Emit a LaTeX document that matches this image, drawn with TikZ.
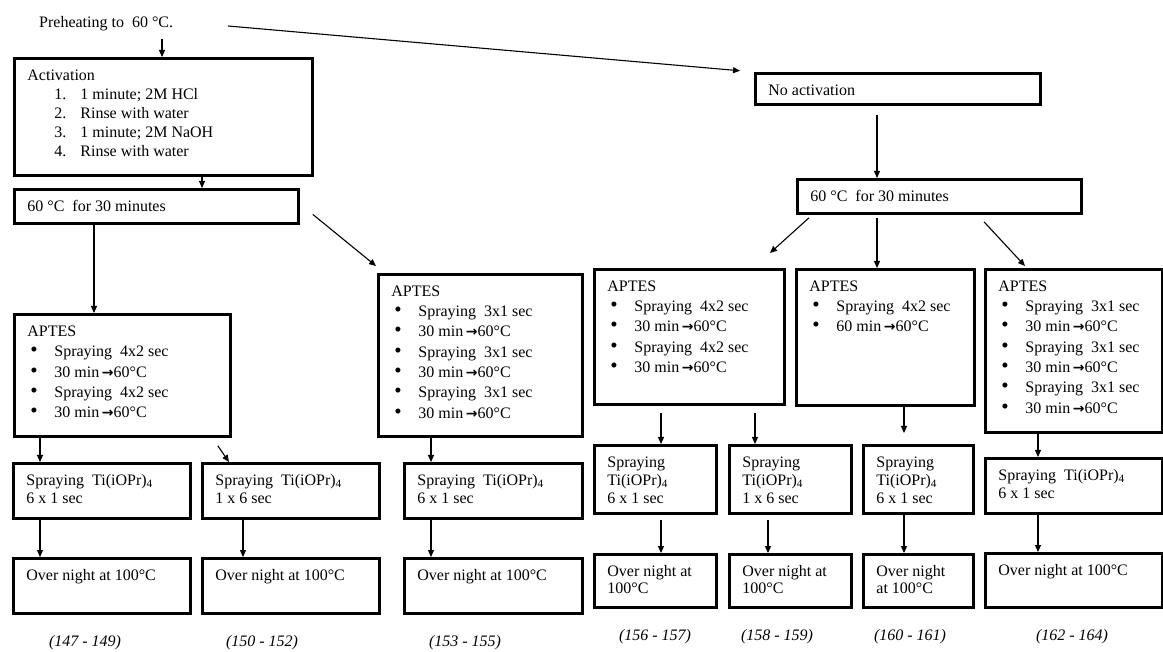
\documentclass[tikz,border=0pt]{standalone}
\usepackage{fontspec}
\setmainfont{Liberation Serif}
\newfontfamily\arrowfont{DejaVu Sans}
\usetikzlibrary{arrows.meta}

% box text: width, height, line spacing, lines
\newcommand{\boxtxt}[4]{\parbox[c][#2pt][t]{#1pt}{\leftskip=13pt\parindent=0pt\baselineskip=#3pt\rule{0pt}{22pt}#4\par}}
\newcommand{\bul}[1]{\\\makebox[27pt][l]{\hspace{3pt}{\fontsize{21}{20}\selectfont\textbullet}}#1}
\newcommand{\numline}[2]{\\\hspace*{27pt}\makebox[26pt][l]{#1}#2}
\newcommand{\tiox}{Ti(iOPr)\textsubscript{4}}
\newcommand{\toheat}{\,{\arrowfont\bfseries\fontsize{14}{20}\selectfont →}}

\begin{document}
\begin{tikzpicture}[
    x=1pt,y=-1pt,
    every node/.style={font=\fontsize{16}{20}\selectfont},
    stage/.style={
        draw,line width=2.8pt,
        anchor=north west,
        inner sep=0pt
    },
    note/.style={font=\fontsize{16}{20}\selectfont\itshape,inner sep=0pt},
    flow/.style={->,line width=1.1pt},
    >={Triangle[length=7pt,width=6pt]}
]
\useasboundingbox (0,0) rectangle (1163,652);

\node[inner sep=0pt,anchor=base west] (pre) at (39,28) {Preheating to\ \ 60 °C.};

% activated branch
\node[stage] (act) at (13,57) {\boxtxt{298}{117}{19}{Activation\numline{1.}{1 minute; 2M HCl}\numline{2.}{Rinse with water}\numline{3.}{1 minute; 2M NaOH}\numline{4.}{Rinse with water}}};
\node[stage] (bake1) at (13,188) {\boxtxt{284}{34}{20}{60 °C\ \ for 30 minutes}};
\node[stage] (apt1) at (13,313) {\boxtxt{216}{122}{20.4}{APTES\bul{Spraying\ \ 4x2 sec}\bul{30 min\toheat60°C}\bul{Spraying\ \ 4x2 sec}\bul{30 min\toheat60°C}}};
\node[stage] (apt2) at (377,273) {\boxtxt{204}{162}{20.3}{APTES\bul{Spraying\ \ 3x1 sec}\bul{30 min\toheat60°C}\bul{Spraying\ \ 3x1 sec}\bul{30 min\toheat60°C}\bul{Spraying\ \ 3x1 sec}\bul{30 min\toheat60°C}}};
\node[stage] (ti1) at (12,462) {\boxtxt{177}{55}{18}{Spraying\ \ \tiox\\6 x 1 sec}};
\node[stage] (ti2) at (201,462) {\boxtxt{177}{55}{18}{Spraying\ \ \tiox\\1 x 6 sec}};
\node[stage] (ti3) at (403,462) {\boxtxt{178}{55}{18}{Spraying\ \ \tiox\\6 x 1 sec}};
\node[stage] (on1) at (12,557) {\boxtxt{177}{55}{18}{Over night at 100°C}};
\node[stage] (on2) at (201,557) {\boxtxt{177}{55}{18}{Over night at 100°C}};
\node[stage] (on3) at (403,557) {\boxtxt{178}{55}{18}{Over night at 100°C}};

% non-activated branch
\node[stage] (noact) at (754,72) {\boxtxt{285}{31}{20}{No activation}};
\node[stage] (bake2) at (796,178) {\boxtxt{284}{34}{20}{60 °C\ \ for 30 minutes}};
\node[stage] (apt3) at (593,268) {\boxtxt{190}{135}{20.3}{APTES\bul{Spraying\ \ 4x2 sec}\bul{30 min\toheat60°C}\bul{Spraying\ \ 4x2 sec}\bul{30 min\toheat60°C}}};
\node[stage] (apt4) at (795,268) {\boxtxt{178}{136}{20.3}{APTES\bul{Spraying\ \ 4x2 sec}\bul{60 min\toheat60°C}}};
\node[stage] (apt5) at (984,268) {\boxtxt{177}{163}{20.3}{APTES\bul{Spraying\ \ 3x1 sec}\bul{30 min\toheat60°C}\bul{Spraying\ \ 3x1 sec}\bul{30 min\toheat60°C}\bul{Spraying\ \ 3x1 sec}\bul{30 min\toheat60°C}}};
\node[stage] (ti4) at (593,444) {\boxtxt{122}{68}{18}{Spraying\\\tiox\\6 x 1 sec}};
\node[stage] (ti5) at (728,444) {\boxtxt{122}{68}{18}{Spraying\\\tiox\\1 x 6 sec}};
\node[stage] (ti6) at (862,444) {\boxtxt{110}{68}{18}{Spraying\\\tiox\\6 x 1 sec}};
\node[stage] (ti7) at (984,457) {\boxtxt{177}{55}{18}{Spraying\ \ \tiox\\6 x 1 sec}};
\node[stage] (on4) at (593,553) {\boxtxt{122}{53}{17}{Over night at\\100°C}};
\node[stage] (on5) at (728,553) {\boxtxt{122}{53}{17}{Over night at\\100°C}};
\node[stage] (on6) at (862,553) {\boxtxt{110}{53}{17}{Over night\\at 100°C}};
\node[stage] (on7) at (984,552) {\boxtxt{177}{54}{18}{Over night at 100°C}};

% sample numbers
\node[note] (lab1) at (85,643) {(147 - 149)};
\node[note] (lab2) at (262,643) {(150 - 152)};
\node[note] (lab3) at (465,643) {(153 - 155)};
\node[note] (lab4) at (655,637) {(156 - 157)};
\node[note] (lab5) at (777,637) {(158 - 159)};
\node[note] (lab6) at (910,637) {(160 - 161)};
\node[note] (lab7) at (1072,637) {(162 - 164)};

\draw[flow] ([shift={(123,11)}]pre.base west) -- ([shift={(149,0)}]act.north west);
\draw[flow,shorten >=14pt] ([shift={(189,-2)}]pre.base west) -- (noact.north west);
\draw[flow] ([shift={(189,0)}]act.south west) -- ([shift={(189,0)}]bake1.north west);
\draw[flow] ([shift={(81,0)}]bake1.south west) -- ([shift={(81,0)}]apt1.north west);
\draw[flow] ([shift={(13,8)}]bake1.east) -- ([shift={(-1,-7)}]apt2.north west);
\draw[flow] ([shift={(27,0)}]apt1.south west) -- ([shift={(28,0)}]ti1.north west);
\draw[flow] ([shift={(-14,8)}]apt1.south east) -- ([shift={(28,0)}]ti2.north west);
\draw[flow] ([shift={(54,0)}]apt2.south west) -- ([shift={(28,0)}]ti3.north west);
\draw[flow] ([shift={(28,0)}]ti1.south west) -- ([shift={(28,0)}]on1.north west);
\draw[flow] ([shift={(42,0)}]ti2.south west) -- ([shift={(42,0)}]on2.north west);
\draw[flow] ([shift={(28,0)}]ti3.south west) -- ([shift={(28,0)}]on3.north west);

\draw[flow] ([shift={(123,9)}]noact.south west) -- ([shift={(81,0)}]bake2.north west);
\draw[flow] ([shift={(13,3)}]bake2.south west) -- ([shift={(177,-15)}]apt3.north west);
\draw[flow] ([shift={(81,3)}]bake2.south west) -- ([shift={(82,0)}]apt4.north west);
\draw[flow] ([shift={(188,7)}]bake2.south west) -- ([shift={(41,-2)}]apt5.north west);
\draw[flow] ([shift={(68,7)}]apt3.south west) -- ([shift={(68,0)}]ti4.north west);
\draw[flow] ([shift={(162,7)}]apt3.south west) -- ([shift={(27,0)}]ti5.north west);
\draw[flow] ([shift={(109,0)}]apt4.south west) -- ([shift={(42,-11)}]ti6.north west);
\draw[flow] ([shift={(54,0)}]apt5.south west) -- ([shift={(54,0)}]ti7.north west);
\draw[flow] ([shift={(68,5)}]ti4.south west) -- ([shift={(68,0)}]on4.north west);
\draw[flow] ([shift={(40,5)}]ti5.south west) -- ([shift={(40,0)}]on5.north west);
\draw[flow] ([shift={(42,0)}]ti6.south west) -- ([shift={(42,0)}]on6.north west);
\draw[flow] ([shift={(54,0)}]ti7.south west) -- ([shift={(54,0)}]on7.north west);
\end{tikzpicture}
\end{document}
